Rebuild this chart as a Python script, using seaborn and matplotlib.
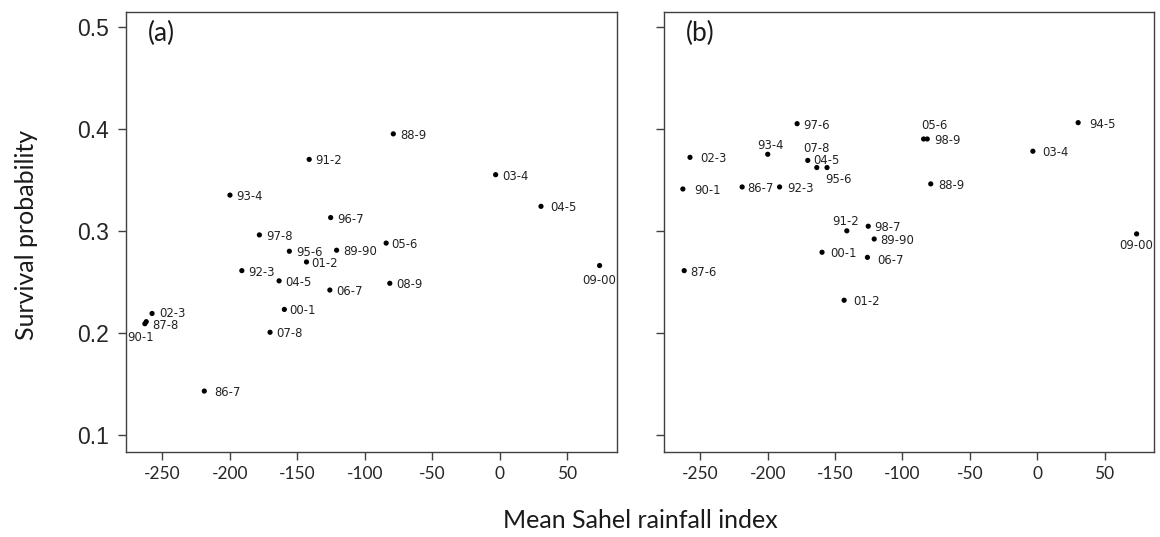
import matplotlib
matplotlib.use("Agg")
import matplotlib.pyplot as plt
import seaborn as sns
import pandas as pd

# Panel (a): mean Sahel rainfall index vs survival probability, by season
labels_a = ["86-7", "87-8", "88-9", "89-90", "90-1", "91-2", "92-3", "93-4",
            "04-5", "95-6", "96-7", "97-8", "00-1", "01-2", "02-3", "03-4",
            "04-5", "05-6", "06-7", "07-8", "08-9", "09-00"]
rainfall_a = [-219.0, -262.0, -79.0, -121.0, -263.0, -141.3, -191.2, -200.0,
              30.4, -156.0, -125.4, -178.2, -159.7, -143.3, -257.7, -3.2,
              -163.6, -84.3, -126.0, -170.3, -81.6, 73.8]
survival_a = [0.143, 0.211, 0.395, 0.281, 0.209, 0.370, 0.261, 0.335,
              0.324, 0.280, 0.313, 0.296, 0.223, 0.2695, 0.219, 0.355,
              0.251, 0.288, 0.242, 0.2006, 0.2486, 0.266]

# Panel (b)
labels_b = ["86-7", "87-6", "88-9", "89-90", "90-1", "91-2", "92-3", "93-4",
            "94-5", "95-6", "98-7", "97-6", "00-1", "01-2", "02-3", "03-4",
            "04-5", "05-6", "06-7", "07-8", "98-9", "09-00"]
rainfall_b = [-219.0, -262.0, -79.0, -121.0, -263.0, -141.3, -191.2, -200.0,
              30.4, -156.0, -125.4, -178.2, -159.7, -143.3, -257.7, -3.2,
              -163.6, -84.3, -126.0, -170.3, -81.6, 73.8]
survival_b = [0.343, 0.261, 0.346, 0.292, 0.341, 0.300, 0.343, 0.375,
              0.406, 0.362, 0.3045, 0.405, 0.279, 0.232, 0.372, 0.378,
              0.362, 0.390, 0.274, 0.369, 0.390, 0.297]

x_ticks = [-250, -200, -150, -100, -50, 0, 50]
y_ticks = [0.1, 0.2, 0.3, 0.4, 0.5]

# label placement in pixels: (dx, dy_down, horizontal alignment)
DEFAULT_GAP = 6.5
place_a = {
    0: (10, 0, "left"), 1: (5.5, 2, "left"), 4: (-4.5, 12, "center"),
    8: (9, 0, "left"), 12: (5, 0, "left"), 13: (4.7, 0, "left"),
    14: (7, -2, "left"),
    17: (4.7, 0, "left"), 21: (0, 13.5, "center"),
}
place_b = {
    0: (4.7, 0, "left"), 1: (6, 0, "left"), 2: (7.6, 0, "left"),
    4: (11, 0, "left"), 5: (-1.6, -11, "center"), 6: (7.3, 0, "left"),
    7: (2.4, -10, "center"), 8: (11, 0, "left"), 9: (11.3, 10, "center"),
    10: (5.7, 0, "left"), 11: (5.7, 0, "left"), 12: (8.3, 0, "left"),
    13: (9, 0, "left"), 14: (10, 0, "left"), 15: (9, 0, "left"),
    16: (-3.3, -8.7, "left"), 17: (10.7, -14.7, "center"),
    18: (10.3, 1.7, "left"), 19: (8.4, -13, "center"), 20: (7.3, 0, "left"),
    21: (0, 10, "center"),
}

sns.set_style("white")
plt.rcParams["font.family"] = ["DejaVu Sans"]

W, H = 1160, 537
fig = plt.figure(figsize=(W / 100, H / 100), dpi=100)
frame_col = "#404040"
ax_bottom, ax_top = 451.7, 11.5
ax_a = fig.add_axes([126 / W, (H - ax_bottom) / H, 491 / W, (ax_bottom - ax_top) / H])
ax_b = fig.add_axes([664 / W, (H - ax_bottom) / H, 490 / W, (ax_bottom - ax_top) / H])


def draw_panel(ax, xs, ys, labels, place, tag, show_ylabels):
    df = pd.DataFrame({"rain": xs, "surv": ys})
    sns.scatterplot(data=df, x="rain", y="surv", ax=ax, color="black",
                    s=14, edgecolor="none", legend=False, zorder=3)
    for i, (x, y, lab) in enumerate(zip(xs, ys, labels)):
        dx, dy, ha = place.get(i, (DEFAULT_GAP, 0, "left"))
        ax.annotate(lab, (x, y), xytext=(dx, -dy), textcoords="offset pixels",
                    ha=ha, va="center_baseline", fontsize=8.4,
                    family="DejaVu Sans", color="#222222")
    ax.set_xlim(-277, 86.7)
    ax.set_ylim(0.0836, 0.5149)
    ax.set_xticks(x_ticks)
    ax.set_yticks(y_ticks)
    ax.set_xticklabels([str(t) for t in x_ticks], family="Lato", fontsize=12.5)
    if show_ylabels:
        ax.set_yticklabels([f"{t:.1f}" for t in y_ticks],
                           family="Liberation Sans", fontsize=16.5)
    else:
        ax.tick_params(axis="y", labelleft=False)
    ax.set_xlabel("")
    ax.set_ylabel("")
    for sp in ax.spines.values():
        sp.set_visible(True)
        sp.set_color(frame_col)
        sp.set_linewidth(1.0)
    ax.tick_params(axis="both", direction="out", length=5.5, width=1.0,
                   color=frame_col, left=True, bottom=True)
    ax.tick_params(axis="x", pad=5)
    ax.tick_params(axis="y", pad=7)
    ax.text(0.044, 0.95, tag, transform=ax.transAxes, ha="left", va="center",
            family="Lato", fontsize=19, color="#1a1a1a")


draw_panel(ax_a, rainfall_a, survival_a, labels_a, place_a, "(a)", True)
draw_panel(ax_b, rainfall_b, survival_b, labels_b, place_b, "(b)", False)

fig.text(640 / W, 1 - 520 / H, "Mean Sahel rainfall index", ha="center",
         va="center", family="Lato", fontsize=18, color="#1a1a1a")
fig.text(27 / W, 1 - 235 / H, "Survival probability", ha="center",
         va="center", rotation=90, family="Lato", fontsize=18, color="#1a1a1a")

fig.savefig("out.png", dpi=100, facecolor="white")
